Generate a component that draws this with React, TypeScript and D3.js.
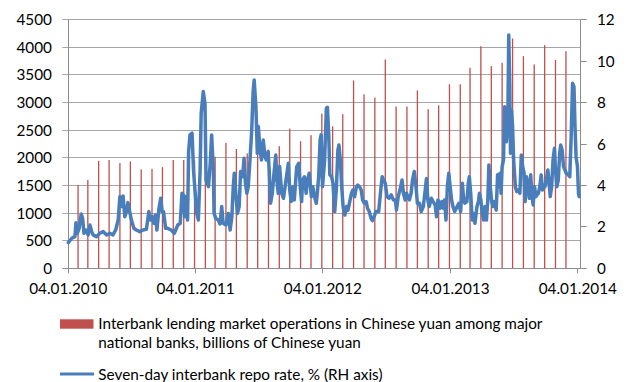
import React from "react";
import * as d3 from "d3";

// Interbank lending volume (billions of CNY), monthly, plotted at month end
const lendingMonths = [
  "2010-01", "2010-02", "2010-03", "2010-04", "2010-05", "2010-06", "2010-07", "2010-08", "2010-09", "2010-10", "2010-11", "2010-12",
  "2011-01", "2011-02", "2011-03", "2011-04", "2011-05", "2011-06", "2011-07", "2011-08", "2011-09", "2011-10", "2011-11", "2011-12",
  "2012-01", "2012-02", "2012-03", "2012-04", "2012-05", "2012-06", "2012-07", "2012-08", "2012-09", "2012-10", "2012-11", "2012-12",
  "2013-01", "2013-02", "2013-03", "2013-04", "2013-05", "2013-06", "2013-07", "2013-08", "2013-09", "2013-10", "2013-11",
];
const lendingValues = [
  1510, 1600, 1945, 1960, 1905, 1935, 1790, 1800, 1830, 1960, 1960, 1950,
  2000, 2020, 2270, 2160, 2080, 2100, 2150, 2210, 2530, 2300, 2410, 2800,
  2570, 2790, 3400, 3150, 3090, 3780, 2930, 2930, 3220, 2880, 2950, 3330,
  3330, 3630, 4020, 3660, 3720, 4160, 3840, 3690, 4040, 3770, 3930,
];

// Seven-day interbank repo rate, %
const repo2010: [string, number][] = [
  ["2010-01-04", 1.24], ["2010-01-14", 1.45], ["2010-01-23", 1.53], ["2010-01-26", 2.2], ["2010-01-30", 1.69],
  ["2010-02-04", 1.93], ["2010-02-10", 2.62], ["2010-02-14", 2.41], ["2010-02-18", 1.69], ["2010-02-23", 1.85],
  ["2010-03-02", 1.61], ["2010-03-07", 2.09], ["2010-03-12", 1.77], ["2010-03-16", 1.61], ["2010-03-26", 1.53],
  ["2010-04-04", 1.69], ["2010-04-14", 1.77], ["2010-04-24", 1.61], ["2010-05-03", 1.69], ["2010-05-12", 1.61],
  ["2010-05-20", 1.85], ["2010-05-27", 2.33], ["2010-06-01", 3.46], ["2010-06-06", 2.98], ["2010-06-10", 3.49],
  ["2010-06-15", 2.49], ["2010-06-20", 2.74], ["2010-06-24", 3.17], ["2010-06-29", 2.74], ["2010-07-04", 2.33],
  ["2010-07-11", 1.93], ["2010-07-18", 1.85], ["2010-07-28", 1.77], ["2010-08-06", 1.85], ["2010-08-16", 1.88],
  ["2010-08-23", 2.74], ["2010-08-27", 2.33], ["2010-09-02", 2.49], ["2010-09-06", 2.17], ["2010-09-11", 2.57],
  ["2010-09-15", 1.85], ["2010-09-21", 2.9], ["2010-09-26", 3.38], ["2010-09-30", 2.74], ["2010-10-04", 2.74],
  ["2010-10-10", 1.93], ["2010-10-16", 1.93], ["2010-10-26", 1.85], ["2010-11-04", 1.69], ["2010-11-14", 2.09],
  ["2010-11-21", 2.17], ["2010-11-26", 3.62], ["2010-11-30", 3.54], ["2010-12-04", 2.49], ["2010-12-08", 3.46],
  ["2010-12-12", 2.33], ["2010-12-15", 5.63], ["2010-12-19", 6.44], ["2010-12-25", 6.52], ["2010-12-29", 4.75],
];
const repo2011: [string, number][] = [
  ["2011-01-07", 2.65], ["2011-01-12", 2.33], ["2011-01-17", 4.75], ["2011-01-20", 7.48], ["2011-01-26", 8.53],
  ["2011-01-31", 7.96], ["2011-02-03", 4.26], ["2011-02-10", 3.94], ["2011-02-15", 5.07], ["2011-02-19", 6.44],
  ["2011-02-24", 4.75], ["2011-02-26", 2.65], ["2011-03-03", 2.41], ["2011-03-10", 2.33], ["2011-03-15", 2.14],
  ["2011-03-20", 2.98], ["2011-03-24", 2.17], ["2011-04-01", 2.09], ["2011-04-08", 2.65], ["2011-04-13", 1.85],
  ["2011-04-18", 2.49], ["2011-04-22", 3.94], ["2011-04-25", 4.59], ["2011-04-30", 3.46], ["2011-05-04", 2.65],
  ["2011-05-09", 2.98], ["2011-05-13", 4.67], ["2011-05-19", 4.42], ["2011-05-23", 5.31], ["2011-05-27", 4.1],
  ["2011-05-31", 3.62], ["2011-06-04", 3.94], ["2011-06-09", 5.23], ["2011-06-14", 6.68], ["2011-06-18", 8.53],
  ["2011-06-21", 9.09], ["2011-06-26", 7.8], ["2011-06-30", 5.55], ["2011-07-03", 6.84], ["2011-07-07", 5.87],
  ["2011-07-12", 5.23], ["2011-07-17", 6.19], ["2011-07-22", 5.39], ["2011-07-26", 5.23], ["2011-07-31", 5.63],
  ["2011-08-03", 4.75], ["2011-08-07", 3.14], ["2011-08-12", 3.62], ["2011-08-16", 4.42], ["2011-08-22", 5.47],
  ["2011-08-25", 4.26], ["2011-08-29", 3.62], ["2011-09-02", 4.91], ["2011-09-08", 3.62], ["2011-09-13", 3.38],
  ["2011-09-19", 4.1], ["2011-09-23", 4.59], ["2011-09-27", 5.07], ["2011-10-01", 3.78], ["2011-10-05", 3.22],
  ["2011-10-10", 3.94], ["2011-10-14", 3.3], ["2011-10-21", 4.91], ["2011-10-27", 5.07], ["2011-10-31", 3.94],
  ["2011-11-04", 3.22], ["2011-11-07", 4.26], ["2011-11-12", 4.42], ["2011-11-17", 3.62], ["2011-11-21", 4.26],
  ["2011-11-26", 4.59], ["2011-12-02", 3.46], ["2011-12-06", 3.94], ["2011-12-11", 3.46], ["2011-12-16", 3.14],
  ["2011-12-19", 3.62], ["2011-12-23", 4.42], ["2011-12-27", 6.19], ["2011-12-30", 6.44],
];
const repo2012: [string, number][] = [
  ["2012-01-03", 3.94], ["2012-01-09", 5.23], ["2012-01-14", 7.72], ["2012-01-17", 7.77], ["2012-01-21", 6.35],
  ["2012-01-24", 4.51], ["2012-01-29", 4.42], ["2012-02-02", 4.1], ["2012-02-07", 2.74], ["2012-02-12", 3.94],
  ["2012-02-16", 5.71], ["2012-02-19", 5.95], ["2012-02-23", 5.23], ["2012-02-27", 3.94], ["2012-03-02", 2.98],
  ["2012-03-07", 2.57], ["2012-03-12", 2.98], ["2012-03-16", 2.81], ["2012-03-21", 3.22], ["2012-03-26", 3.62],
  ["2012-03-30", 3.78], ["2012-04-04", 3.46], ["2012-04-09", 3.94], ["2012-04-13", 4.02], ["2012-04-18", 3.94],
  ["2012-04-23", 3.78], ["2012-04-27", 3.3], ["2012-05-02", 3.14], ["2012-05-07", 3.22], ["2012-05-11", 2.9],
  ["2012-05-16", 2.74], ["2012-05-21", 2.41], ["2012-05-25", 2.3], ["2012-05-30", 2.49], ["2012-06-04", 2.74],
  ["2012-06-12", 2.74], ["2012-06-17", 3.62], ["2012-06-22", 4.42], ["2012-06-26", 4.26], ["2012-07-01", 4.1],
  ["2012-07-06", 3.46], ["2012-07-12", 3.38], ["2012-07-18", 3.54], ["2012-07-24", 3.3], ["2012-07-30", 3.3],
  ["2012-08-02", 2.81], ["2012-08-07", 3.46], ["2012-08-12", 3.78], ["2012-08-18", 4.26], ["2012-08-22", 3.62],
  ["2012-08-27", 3.3], ["2012-08-31", 3.62], ["2012-09-04", 3.46], ["2012-09-08", 3.3], ["2012-09-13", 3.62],
  ["2012-09-17", 4.26], ["2012-09-22", 4.67], ["2012-09-27", 3.94], ["2012-10-01", 3.14], ["2012-10-07", 3.14],
  ["2012-10-12", 2.74], ["2012-10-18", 2.98], ["2012-10-24", 3.86], ["2012-10-27", 4.34], ["2012-10-31", 3.3],
  ["2012-11-04", 2.98], ["2012-11-10", 3.38], ["2012-11-15", 3.22], ["2012-11-21", 3.06], ["2012-11-25", 2.49],
  ["2012-11-29", 3.3], ["2012-12-05", 2.9], ["2012-12-10", 3.22], ["2012-12-14", 2.9], ["2012-12-18", 3.3],
  ["2012-12-22", 2.33], ["2012-12-26", 3.94], ["2012-12-30", 4.59],
];
const repo2013: [string, number][] = [
  ["2013-01-03", 3.94], ["2013-01-07", 3.3], ["2013-01-11", 2.98], ["2013-01-16", 2.74], ["2013-01-23", 2.98],
  ["2013-01-28", 3.14], ["2013-02-02", 2.74], ["2013-02-07", 4.1], ["2013-02-10", 3.46], ["2013-02-14", 3.14],
  ["2013-02-20", 3.22], ["2013-02-24", 4.1], ["2013-02-27", 4.42], ["2013-03-03", 3.62], ["2013-03-07", 2.33],
  ["2013-03-11", 2.65], ["2013-03-15", 2.17], ["2013-03-21", 2.98], ["2013-03-25", 3.22], ["2013-03-28", 3.62],
  ["2013-04-01", 3.3], ["2013-04-05", 2.65], ["2013-04-09", 2.33], ["2013-04-13", 2.98], ["2013-04-17", 2.33],
  ["2013-04-21", 3.3], ["2013-04-24", 4.99], ["2013-04-28", 3.94], ["2013-05-02", 3.22], ["2013-05-06", 2.98],
  ["2013-05-10", 3.22], ["2013-05-15", 2.81], ["2013-05-19", 4.51], ["2013-05-22", 3.94], ["2013-05-26", 4.59],
  ["2013-05-29", 3.62], ["2013-06-01", 4.91], ["2013-06-05", 5.23], ["2013-06-08", 7.8], ["2013-06-11", 7.32],
  ["2013-06-13", 6.11], ["2013-06-17", 6.68], ["2013-06-20", 11.26], ["2013-06-23", 8.77], ["2013-06-25", 5.55],
  ["2013-06-28", 7.64], ["2013-07-01", 6.84], ["2013-07-04", 5.23], ["2013-07-09", 3.94], ["2013-07-13", 3.7],
  ["2013-07-17", 3.78], ["2013-07-22", 3.62], ["2013-07-26", 5.47], ["2013-07-30", 4.91], ["2013-08-03", 4.59],
  ["2013-08-06", 3.22], ["2013-08-10", 4.42], ["2013-08-14", 3.94], ["2013-08-18", 3.38], ["2013-08-22", 4.51],
  ["2013-08-25", 3.62], ["2013-08-29", 3.06], ["2013-09-02", 3.94], ["2013-09-06", 3.46], ["2013-09-09", 3.54],
  ["2013-09-13", 3.62], ["2013-09-17", 3.94], ["2013-09-21", 4.51], ["2013-09-25", 3.78], ["2013-09-28", 4.02],
  ["2013-10-02", 3.94], ["2013-10-06", 4.26], ["2013-10-10", 4.75], ["2013-10-13", 4.26], ["2013-10-17", 3.46],
  ["2013-10-21", 3.94], ["2013-10-25", 5.23], ["2013-10-29", 5.79], ["2013-11-01", 4.75], ["2013-11-05", 3.94],
  ["2013-11-09", 4.26], ["2013-11-13", 5.55], ["2013-11-16", 5.95], ["2013-11-20", 5.71], ["2013-11-24", 4.91],
  ["2013-11-28", 4.75], ["2013-12-02", 4.59], ["2013-12-08", 4.51], ["2013-12-12", 4.42], ["2013-12-16", 6.36],
  ["2013-12-20", 8.93], ["2013-12-24", 8.77], ["2013-12-27", 6.84], ["2013-12-30", 5.39], ["2014-01-03", 4.91],
  ["2014-01-06", 3.62], ["2014-01-08", 3.46],
];

const xTickLabels = ["04.01.2010", "04.01.2011", "04.01.2012", "04.01.2013", "04.01.2014"];
const leftTicks = [0, 500, 1000, 1500, 2000, 2500, 3000, 3500, 4000, 4500];
const rightTicks = [0, 2, 4, 6, 8, 10, 12];

const legendBarLines = [
  "Interbank lending market operations in Chinese yuan among major",
  "national banks, billions of Chinese yuan",
];
const legendLineLabel = "Seven-day interbank repo rate, % (RH axis)";

const W = 630;
const H = 382;
const FONT = "Lato, 'Open Sans', sans-serif";
const FS = 15.3;
const BAR = "#C0504D";
const LINE = "#4A7EBB";
const GRID = "#a6a6a6";
const AXIS = "#8c8c8c";

const parseDay = d3.utcParse("%Y-%m-%d");
const parseMonth = d3.utcParse("%Y-%m");
const parseTick = d3.utcParse("%d.%m.%Y");

export default function App() {
  const plotLeft = 68.3;
  const plotRight = 580.7;
  const plotTop = 19.7;
  const plotBottom = 268.3;

  const tickDates = xTickLabels.map((t) => parseTick(t) as Date);
  const x = d3
    .scaleUtc()
    .domain([tickDates[0], tickDates[tickDates.length - 1]])
    .range([plotLeft, 577.8]);
  const yL = d3.scaleLinear().domain([0, 4500]).range([plotBottom, plotTop]);
  const yR = d3.scaleLinear().domain([0, 12]).range([plotBottom, plotTop]);

  const bars = lendingMonths.map((m, i) => ({
    date: d3.utcMonth.offset(parseMonth(m) as Date, 1),
    value: lendingValues[i],
  }));

  const repo = [...repo2010, ...repo2011, ...repo2012, ...repo2013].map(([d, v]) => ({
    date: parseDay(d) as Date,
    value: v,
  }));

  const line = d3
    .line<{ date: Date; value: number }>()
    .x((d) => x(d.date))
    .y((d) => yR(d.value))
    .curve(d3.curveLinear);

  const crisp = (v: number) => Math.floor(v) + 0.5;

  return (
    <svg
      width={W}
      height={H}
      viewBox={`0 0 ${W} ${H}`}
      style={{ position: "absolute", left: 0, top: 0, background: "#fff" }}
      fontFamily={FONT}
    >
      <rect width={W} height={H} fill="#fff" />

      {/* horizontal gridlines with left tick marks */}
      {leftTicks.map((t) => (
        <line
          key={`g${t}`}
          x1={plotLeft - 6}
          x2={plotRight}
          y1={crisp(yL(t))}
          y2={crisp(yL(t))}
          stroke={t === 0 ? AXIS : GRID}
          strokeWidth={1}
        />
      ))}

      {/* right axis tick marks */}
      {rightTicks.map((t) => (
        <line
          key={`rt${t}`}
          x1={plotRight}
          x2={plotRight + 6}
          y1={crisp(yR(t))}
          y2={crisp(yR(t))}
          stroke={AXIS}
          strokeWidth={1}
        />
      ))}

      {/* vertical axes */}
      <line x1={crisp(plotLeft)} x2={crisp(plotLeft)} y1={plotTop} y2={plotBottom + 0.5} stroke={AXIS} />
      <line x1={crisp(plotRight)} x2={crisp(plotRight)} y1={plotTop} y2={plotBottom + 0.5} stroke={AXIS} />

      {/* x axis ticks */}
      {tickDates.map((d, i) => (
        <line
          key={`xt${i}`}
          x1={crisp(x(d))}
          x2={crisp(x(d))}
          y1={plotBottom}
          y2={plotBottom + 5}
          stroke={AXIS}
        />
      ))}

      {/* monthly lending bars */}
      {bars.map((b, i) => (
        <rect
          key={`b${i}`}
          x={x(b.date) - 0.65}
          y={yL(b.value)}
          width={1.3}
          height={yL(0) - yL(b.value)}
          fill={BAR}
        />
      ))}

      {/* repo rate line */}
      <path
        d={line(repo) || ""}
        fill="none"
        stroke={LINE}
        strokeWidth={3.5}
        strokeLinejoin="round"
        strokeLinecap="round"
      />

      {/* left tick labels */}
      {leftTicks.map((t) => (
        <text key={`ll${t}`} x={52} y={yL(t) + 5.5} textAnchor="end" fontSize={FS} fill="#000">
          {t}
        </text>
      ))}

      {/* right tick labels */}
      {rightTicks.map((t) => (
        <text key={`rl${t}`} x={597} y={yR(t) + 5.5} textAnchor="start" fontSize={FS} fill="#000">
          {t}
        </text>
      ))}

      {/* x tick labels */}
      {tickDates.map((d, i) => (
        <text key={`xl${i}`} x={x(d)} y={293.8} textAnchor="middle" fontSize={FS} fill="#000">
          {xTickLabels[i]}
        </text>
      ))}

      {/* legend */}
      <rect x={60} y={319.3} width={33.5} height={9.4} fill={BAR} />
      {legendBarLines.map((s, i) => (
        <text key={`lg${i}`} x={98.3} y={328.8 + i * 19.4} fontSize={FS} fill="#000">
          {s}
        </text>
      ))}
      <line x1={60} x2={94} y1={374} y2={374} stroke={LINE} strokeWidth={3} />
      <text x={98.3} y={379.5} fontSize={FS} fill="#000">
        {legendLineLabel}
      </text>
    </svg>
  );
}
